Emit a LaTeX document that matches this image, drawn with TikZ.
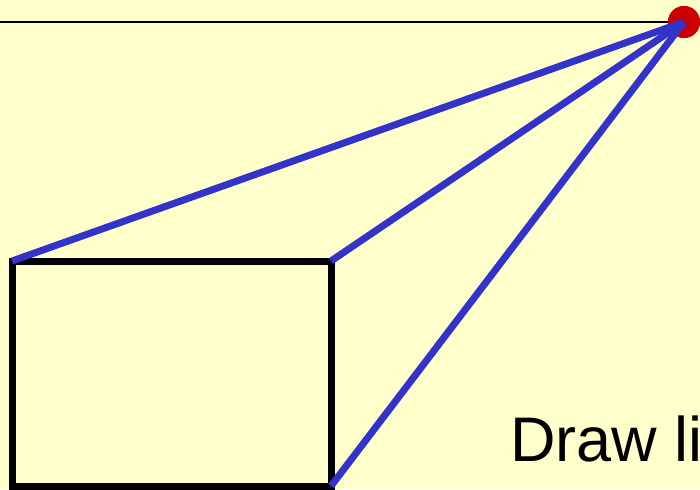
\documentclass[tikz,border=0pt]{standalone}
\usepackage{fontspec}
\setmainfont{Liberation Sans}
\definecolor{bg}{HTML}{FFFFCC}
\definecolor{dotred}{HTML}{CC0000}
\definecolor{lineblue}{HTML}{3333CC}
\begin{document}
\begin{tikzpicture}[x=1pt,y=-1pt,
  ray/.style={draw=lineblue,line width=7pt},
  box/.style={draw=black,line width=7pt,rectangle,outer sep=0pt,inner sep=0pt,minimum width=319pt,minimum height=225pt},
  vp/.style={circle,fill=dotred,inner sep=0pt,outer sep=0pt,minimum size=32pt}]
\useasboundingbox (0,0) rectangle (700,489);
\clip (0,0) rectangle (700,489);
\fill[bg] (0,0) rectangle (700,489);
\coordinate (h0) at (0,22);
\node[box] (r) at (171.5,373.5) {};
\node[vp] (v) at (684,22) {};
\draw[line width=2pt] (h0) -- (v.center);
\node[vp] at (v.center) {};
\draw[ray] (v.center) -- (r.north west);
\draw[ray] (v.center) -- (r.north east);
\draw[ray] (v.center) -- (r.south east);
\node[anchor=base west,inner sep=0pt,font=\fontsize{63}{63}\selectfont] (t) at (510,461) {Draw li};
\end{tikzpicture}
\end{document}
